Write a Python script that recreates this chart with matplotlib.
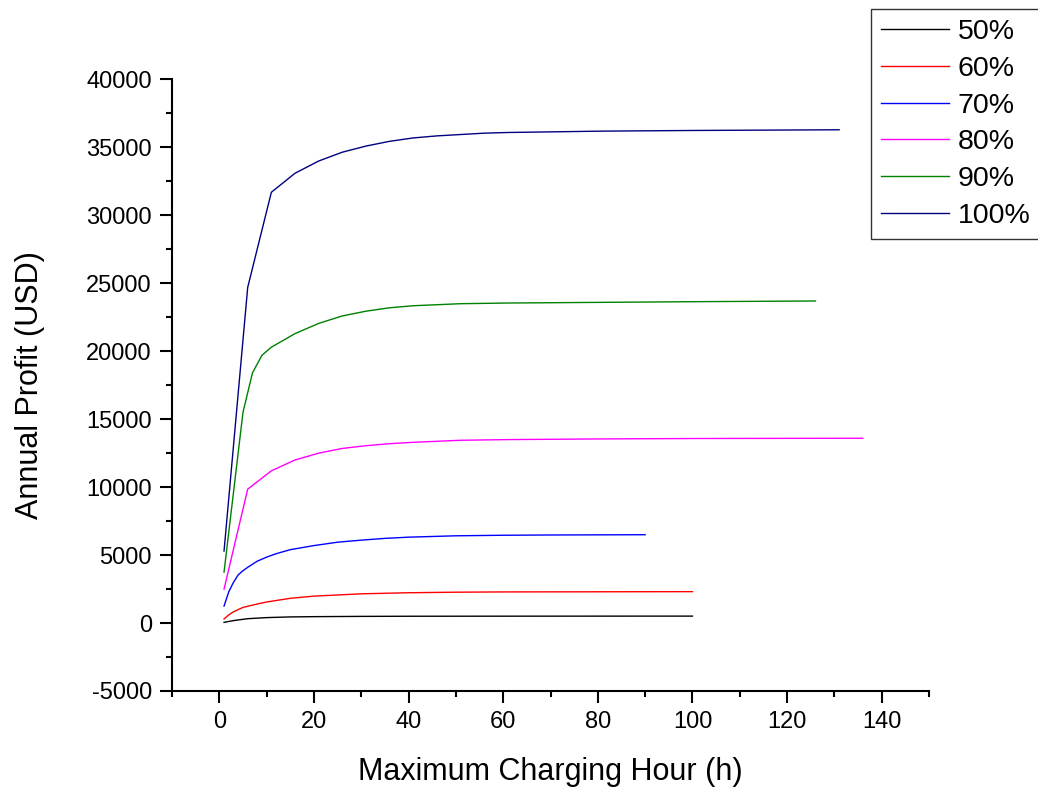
import matplotlib
matplotlib.use("Agg")
import matplotlib.pyplot as plt
from matplotlib.ticker import MultipleLocator

plt.rcParams['font.family'] = ['Liberation Sans', 'DejaVu Sans']
plt.rcParams['axes.unicode_minus'] = False

# ---- data ----
labels = ["50%", "60%", "70%", "80%", "90%", "100%"]
colors = ["#000000", "#ff0000", "#0000ff", "#ff00ff", "#008000", "#000080"]

x50 = [1, 3, 6, 10, 15, 20, 30, 40, 60, 80, 100]
y50 = [50, 180, 320, 400, 450, 470, 490, 500, 505, 508, 510]

x60 = [1, 2, 3, 5, 8, 10, 15, 20, 30, 40, 50, 60, 80, 100]
y60 = [300, 600, 830, 1150, 1400, 1550, 1820, 1980, 2150, 2230, 2270, 2290, 2300, 2310]

x70 = [1, 2, 3, 4, 5, 6, 8, 10, 12, 15, 20, 25, 30, 35, 40, 50, 60, 70, 80, 90]
y70 = [1250, 2300, 3000, 3550, 3850, 4100, 4550, 4850, 5100, 5400, 5700, 5950,
       6100, 6230, 6320, 6420, 6460, 6480, 6490, 6500]

x80 = [1, 6, 11, 16, 21, 26, 31, 36, 41, 51, 61, 81, 101, 136]
y80 = [2500, 9850, 11200, 12000, 12500, 12850, 13050, 13200, 13300, 13450,
       13500, 13550, 13580, 13600]

x90 = [1, 5, 7, 9, 11, 16, 21, 26, 31, 36, 41, 51, 61, 81, 101, 126]
y90 = [3750, 15500, 18400, 19700, 20300, 21300, 22050, 22600, 22950, 23200,
       23350, 23500, 23550, 23600, 23650, 23700]

x100 = [1, 6, 11, 16, 21, 26, 31, 36, 41, 46, 51, 56, 61, 81, 101, 131]
y100 = [5300, 24700, 31700, 33100, 34000, 34650, 35100, 35450, 35700, 35850,
        35950, 36050, 36100, 36200, 36250, 36300]

xs = [x50, x60, x70, x80, x90, x100]
ys = [y50, y60, y70, y80, y90, y100]

xticks = [0, 20, 40, 60, 80, 100, 120, 140]
yticks = [-5000, 0, 5000, 10000, 15000, 20000, 25000, 30000, 35000, 40000]

# ---- figure ----
fig = plt.figure(figsize=(10.38, 7.87), dpi=100)
ax = fig.add_axes([0.1657, 0.122, 0.7293, 0.777])

handles = []
for x, y, c, lab in zip(xs, ys, colors, labels):
    h, = ax.plot(x, y, color=c, lw=1.0, label=lab)
    handles.append(h)

ax.set_xlim(-10, 150)
ax.set_ylim(-5000, 40000)
ax.set_xticks(xticks)
ax.set_yticks(yticks)
ax.xaxis.set_minor_locator(MultipleLocator(10))
ax.yaxis.set_minor_locator(MultipleLocator(2500))

for s in ["top", "right"]:
    ax.spines[s].set_visible(False)
for s in ["left", "bottom"]:
    ax.spines[s].set_linewidth(1.5)

ax.tick_params(which="major", direction="out", length=8.5, width=1.5,
               labelsize=17, pad=6)
ax.tick_params(which="minor", direction="out", length=4.5, width=1.5)

ax.set_xlabel("Maximum Charging Hour (h)", fontsize=22, labelpad=17)
ax.set_ylabel("Annual Profit (USD)", fontsize=22, labelpad=30)

leg = fig.legend(handles=handles, labels=labels, loc="upper left",
                 bbox_to_anchor=(871 / 1038, 1 - 9 / 787),
                 fontsize=20.5, frameon=True, fancybox=False,
                 handlelength=2.4, handletextpad=0.3, labelspacing=0.38,
                 borderpad=0.35, borderaxespad=0.0)
leg.get_frame().set_edgecolor("black")
leg.get_frame().set_linewidth(1.0)

fig.savefig("out.png", dpi=100)
